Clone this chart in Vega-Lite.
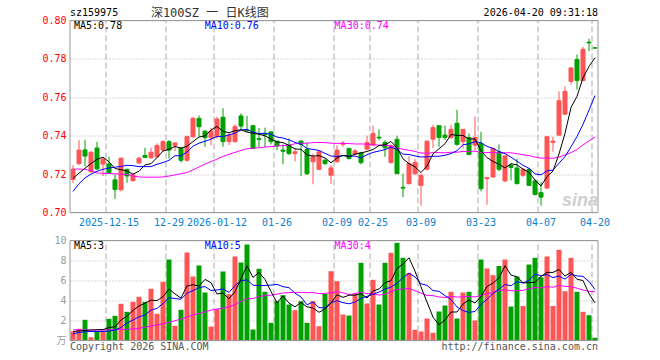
{
"$schema": "https://vega.github.io/schema/vega-lite/v6.json",
"width": 528, "height": 320,
"autosize": {"type": "none"},
"padding": {"left": 70, "top": 20.5, "right": 62, "bottom": 19.5},
"background": "white",
"config": {"view": {"stroke": null}, "text": {"font": "DejaVu Sans Mono", "fontSize": 10}, "axis": {"labelFont": "DejaVu Sans Mono", "labelFontSize": 10}},
"datasets": {
"ticks": [{"d":"2025-12-15"},{"d":"2025-12-29"},{"d":"2026-01-12"},{"d":"2026-01-26"},{"d":"2026-02-09"},{"d":"2026-02-25"},{"d":"2026-03-09"},{"d":"2026-03-23"},{"d":"2026-04-07"},{"d":"2026-04-20"}],
"one": [{}],
"k": [
{"d":"2025-12-05","o":0.7172,"h":0.7246,"l":0.7154,"c":0.7225,"v":0.90,"m5":0.7178,"m10":0.7110,"m30":0.7226,"vm5":0.90,"vm10":0.67,"vm30":1.07},
{"d":"2025-12-08","o":0.7255,"h":0.7377,"l":0.7246,"c":0.7325,"v":1.17,"m5":0.7205,"m10":0.7150,"m30":0.7226,"vm5":0.95,"vm10":0.80,"vm30":1.07},
{"d":"2025-12-09","o":0.7326,"h":0.7378,"l":0.7240,"c":0.7294,"v":2.07,"m5":0.7230,"m10":0.7180,"m30":0.7225,"vm5":1.00,"vm10":0.87,"vm30":1.06},
{"d":"2025-12-10","o":0.7213,"h":0.7318,"l":0.7205,"c":0.7314,"v":0.33,"m5":0.7255,"m10":0.7200,"m30":0.7218,"vm5":1.05,"vm10":0.90,"vm30":1.05},
{"d":"2025-12-11","o":0.7336,"h":0.7368,"l":0.7222,"c":0.7227,"v":0.90,"m5":0.7277,"m10":0.7215,"m30":0.7206,"vm5":1.07,"vm10":0.90,"vm30":1.05},
{"d":"2025-12-12","o":0.7252,"h":0.7285,"l":0.7190,"c":0.7278,"v":1.00,"m5":0.7288,"m10":0.7225,"m30":0.7204,"vm5":1.09,"vm10":0.90,"vm30":1.06},
{"d":"2025-12-15","o":0.7253,"h":0.7290,"l":0.7205,"c":0.7208,"v":2.17,"m5":0.7264,"m10":0.7232,"m30":0.7203,"vm5":1.29,"vm10":0.95,"vm30":1.07},
{"d":"2025-12-16","o":0.7170,"h":0.7196,"l":0.7071,"c":0.7120,"v":2.47,"m5":0.7229,"m10":0.7236,"m30":0.7201,"vm5":1.37,"vm10":1.05,"vm30":1.08},
{"d":"2025-12-17","o":0.7118,"h":0.7285,"l":0.7110,"c":0.7283,"v":3.67,"m5":0.7223,"m10":0.7240,"m30":0.7200,"vm5":2.04,"vm10":1.30,"vm30":1.10},
{"d":"2025-12-18","o":0.7225,"h":0.7228,"l":0.7155,"c":0.7190,"v":2.87,"m5":0.7216,"m10":0.7246,"m30":0.7198,"vm5":2.44,"vm10":1.76,"vm30":1.12},
{"d":"2025-12-19","o":0.7166,"h":0.7200,"l":0.7160,"c":0.7197,"v":3.87,"m5":0.7200,"m10":0.7244,"m30":0.7190,"vm5":3.01,"vm10":2.05,"vm30":1.15},
{"d":"2025-12-22","o":0.7258,"h":0.7290,"l":0.7255,"c":0.7283,"v":4.37,"m5":0.7215,"m10":0.7239,"m30":0.7185,"vm5":3.45,"vm10":2.37,"vm30":1.22},
{"d":"2025-12-23","o":0.7297,"h":0.7337,"l":0.7285,"c":0.7287,"v":3.87,"m5":0.7248,"m10":0.7239,"m30":0.7184,"vm5":3.73,"vm10":2.55,"vm30":1.33},
{"d":"2025-12-24","o":0.7285,"h":0.7337,"l":0.7280,"c":0.7314,"v":5.17,"m5":0.7254,"m10":0.7239,"m30":0.7184,"vm5":4.03,"vm10":3.04,"vm30":1.45},
{"d":"2025-12-25","o":0.7290,"h":0.7360,"l":0.7285,"c":0.7349,"v":2.67,"m5":0.7286,"m10":0.7251,"m30":0.7184,"vm5":3.99,"vm10":3.21,"vm30":1.55},
{"d":"2025-12-26","o":0.7325,"h":0.7377,"l":0.7320,"c":0.7369,"v":5.87,"m5":0.7320,"m10":0.7260,"m30":0.7185,"vm5":4.39,"vm10":3.70,"vm30":1.68},
{"d":"2025-12-29","o":0.7369,"h":0.7377,"l":0.7281,"c":0.7325,"v":8.10,"m5":0.7329,"m10":0.7272,"m30":0.7190,"vm5":5.14,"vm10":4.29,"vm30":1.80},
{"d":"2025-12-30","o":0.7350,"h":0.7365,"l":0.7320,"c":0.7362,"v":1.47,"m5":0.7344,"m10":0.7296,"m30":0.7196,"vm5":4.66,"vm10":4.19,"vm30":1.98},
{"d":"2025-12-31","o":0.7334,"h":0.7342,"l":0.7260,"c":0.7272,"v":3.07,"m5":0.7335,"m10":0.7295,"m30":0.7202,"vm5":4.24,"vm10":4.13,"vm30":2.15},
{"d":"2026-01-05","o":0.7272,"h":0.7400,"l":0.7265,"c":0.7395,"v":8.80,"m5":0.7345,"m10":0.7315,"m30":0.7208,"vm5":5.46,"vm10":4.73,"vm30":2.35},
{"d":"2026-01-06","o":0.7395,"h":0.7495,"l":0.7390,"c":0.7491,"v":6.40,"m5":0.7369,"m10":0.7345,"m30":0.7222,"vm5":5.57,"vm10":4.98,"vm30":2.57},
{"d":"2026-01-07","o":0.7490,"h":0.7505,"l":0.7395,"c":0.7447,"v":7.50,"m5":0.7393,"m10":0.7361,"m30":0.7237,"vm5":5.45,"vm10":5.29,"vm30":2.70},
{"d":"2026-01-08","o":0.7424,"h":0.7425,"l":0.7342,"c":0.7390,"v":4.80,"m5":0.7399,"m10":0.7371,"m30":0.7252,"vm5":6.11,"vm10":5.39,"vm30":2.85},
{"d":"2026-01-09","o":0.7390,"h":0.7440,"l":0.7350,"c":0.7424,"v":1.40,"m5":0.7429,"m10":0.7382,"m30":0.7265,"vm5":5.78,"vm10":5.01,"vm30":3.03},
{"d":"2026-01-12","o":0.7395,"h":0.7500,"l":0.7386,"c":0.7487,"v":3.13,"m5":0.7448,"m10":0.7396,"m30":0.7278,"vm5":4.65,"vm10":5.05,"vm30":3.15},
{"d":"2026-01-13","o":0.7496,"h":0.7543,"l":0.7342,"c":0.7369,"v":6.90,"m5":0.7423,"m10":0.7396,"m30":0.7292,"vm5":4.75,"vm10":5.16,"vm30":3.25},
{"d":"2026-01-14","o":0.7369,"h":0.7412,"l":0.7351,"c":0.7403,"v":4.63,"m5":0.7415,"m10":0.7404,"m30":0.7303,"vm5":4.17,"vm10":4.81,"vm30":3.35},
{"d":"2026-01-15","o":0.7369,"h":0.7460,"l":0.7365,"c":0.7447,"v":8.40,"m5":0.7426,"m10":0.7413,"m30":0.7313,"vm5":4.89,"vm10":5.50,"vm30":3.60},
{"d":"2026-01-16","o":0.7503,"h":0.7517,"l":0.7430,"c":0.7450,"v":7.80,"m5":0.7431,"m10":0.7430,"m30":0.7323,"vm5":6.17,"vm10":5.98,"vm30":3.90},
{"d":"2026-01-19","o":0.7430,"h":0.7503,"l":0.7420,"c":0.7426,"v":9.60,"m5":0.7419,"m10":0.7433,"m30":0.7332,"vm5":7.47,"vm10":6.06,"vm30":4.18},
{"d":"2026-01-20","o":0.7452,"h":0.7455,"l":0.7330,"c":0.7334,"v":1.10,"m5":0.7412,"m10":0.7418,"m30":0.7335,"vm5":6.31,"vm10":5.53,"vm30":4.19},
{"d":"2026-01-21","o":0.7385,"h":0.7440,"l":0.7340,"c":0.7381,"v":7.17,"m5":0.7408,"m10":0.7411,"m30":0.7337,"vm5":6.81,"vm10":5.49,"vm30":4.39},
{"d":"2026-01-22","o":0.7412,"h":0.7442,"l":0.7340,"c":0.7405,"v":4.87,"m5":0.7399,"m10":0.7413,"m30":0.7341,"vm5":6.11,"vm10":5.50,"vm30":4.48},
{"d":"2026-01-23","o":0.7420,"h":0.7420,"l":0.7355,"c":0.7369,"v":1.77,"m5":0.7383,"m10":0.7407,"m30":0.7343,"vm5":4.90,"vm10":5.54,"vm30":4.53},
{"d":"2026-01-26","o":0.7372,"h":0.7372,"l":0.7325,"c":0.7346,"v":3.93,"m5":0.7367,"m10":0.7393,"m30":0.7347,"vm5":3.77,"vm10":5.62,"vm30":4.63},
{"d":"2026-01-27","o":0.7325,"h":0.7355,"l":0.7252,"c":0.7319,"v":4.53,"m5":0.7364,"m10":0.7388,"m30":0.7348,"vm5":4.45,"vm10":5.38,"vm30":4.75},
{"d":"2026-01-28","o":0.7351,"h":0.7386,"l":0.7299,"c":0.7307,"v":3.60,"m5":0.7349,"m10":0.7378,"m30":0.7351,"vm5":3.74,"vm10":5.28,"vm30":4.79},
{"d":"2026-01-29","o":0.7307,"h":0.7334,"l":0.7267,"c":0.7316,"v":3.03,"m5":0.7331,"m10":0.7365,"m30":0.7358,"vm5":3.37,"vm10":4.74,"vm30":4.81},
{"d":"2026-01-30","o":0.7372,"h":0.7375,"l":0.7190,"c":0.7355,"v":3.93,"m5":0.7329,"m10":0.7356,"m30":0.7360,"vm5":3.80,"vm10":4.35,"vm30":4.82},
{"d":"2026-02-02","o":0.7328,"h":0.7365,"l":0.7195,"c":0.7202,"v":1.77,"m5":0.7300,"m10":0.7333,"m30":0.7361,"vm5":3.37,"vm10":3.57,"vm30":4.78},
{"d":"2026-02-03","o":0.7264,"h":0.7307,"l":0.7147,"c":0.7290,"v":3.93,"m5":0.7294,"m10":0.7329,"m30":0.7364,"vm5":3.25,"vm10":3.85,"vm30":4.79},
{"d":"2026-02-04","o":0.7225,"h":0.7325,"l":0.7220,"c":0.7316,"v":1.43,"m5":0.7296,"m10":0.7323,"m30":0.7365,"vm5":2.82,"vm10":3.28,"vm30":4.69},
{"d":"2026-02-05","o":0.7272,"h":0.7280,"l":0.7246,"c":0.7255,"v":4.67,"m5":0.7284,"m10":0.7308,"m30":0.7364,"vm5":3.15,"vm10":3.26,"vm30":4.71},
{"d":"2026-02-06","o":0.7194,"h":0.7246,"l":0.7147,"c":0.7232,"v":6.93,"m5":0.7259,"m10":0.7294,"m30":0.7361,"vm5":3.75,"vm10":3.78,"vm30":4.77},
{"d":"2026-02-09","o":0.7264,"h":0.7350,"l":0.7260,"c":0.7325,"v":5.93,"m5":0.7284,"m10":0.7292,"m30":0.7360,"vm5":4.58,"vm10":3.98,"vm30":4.88},
{"d":"2026-02-10","o":0.7355,"h":0.7372,"l":0.7342,"c":0.7362,"v":2.60,"m5":0.7298,"m10":0.7296,"m30":0.7360,"vm5":4.31,"vm10":3.78,"vm30":4.77},
{"d":"2026-02-11","o":0.7334,"h":0.7334,"l":0.7276,"c":0.7281,"v":2.50,"m5":0.7291,"m10":0.7293,"m30":0.7359,"vm5":4.53,"vm10":3.67,"vm30":4.59},
{"d":"2026-02-12","o":0.7304,"h":0.7330,"l":0.7299,"c":0.7321,"v":4.67,"m5":0.7304,"m10":0.7294,"m30":0.7357,"vm5":4.53,"vm10":3.84,"vm30":4.69},
{"d":"2026-02-13","o":0.7311,"h":0.7316,"l":0.7250,"c":0.7260,"v":7.77,"m5":0.7310,"m10":0.7284,"m30":0.7357,"vm5":4.69,"vm10":4.22,"vm30":4.85},
{"d":"2026-02-24","o":0.7330,"h":0.7400,"l":0.7325,"c":0.7365,"v":3.70,"m5":0.7318,"m10":0.7301,"m30":0.7356,"vm5":4.25,"vm10":4.41,"vm30":4.68},
{"d":"2026-02-25","o":0.7351,"h":0.7452,"l":0.7348,"c":0.7412,"v":6.07,"m5":0.7328,"m10":0.7313,"m30":0.7353,"vm5":4.94,"vm10":4.63,"vm30":4.67},
{"d":"2026-02-26","o":0.7392,"h":0.7433,"l":0.7377,"c":0.7388,"v":3.60,"m5":0.7349,"m10":0.7320,"m30":0.7351,"vm5":5.16,"vm10":4.84,"vm30":4.54},
{"d":"2026-02-27","o":0.7365,"h":0.7377,"l":0.7290,"c":0.7337,"v":7.77,"m5":0.7352,"m10":0.7328,"m30":0.7350,"vm5":5.78,"vm10":5.15,"vm30":4.64},
{"d":"2026-03-02","o":0.7260,"h":0.7355,"l":0.7255,"c":0.7348,"v":8.77,"m5":0.7370,"m10":0.7340,"m30":0.7347,"vm5":5.98,"vm10":5.34,"vm30":4.88},
{"d":"2026-03-03","o":0.7381,"h":0.7400,"l":0.7202,"c":0.7202,"v":9.77,"m5":0.7337,"m10":0.7328,"m30":0.7337,"vm5":7.20,"vm10":5.72,"vm30":5.10},
{"d":"2026-03-04","o":0.7131,"h":0.7202,"l":0.7080,"c":0.7127,"v":8.27,"m5":0.7280,"m10":0.7304,"m30":0.7329,"vm5":7.64,"vm10":6.29,"vm30":5.15},
{"d":"2026-03-05","o":0.7150,"h":0.7293,"l":0.7147,"c":0.7255,"v":6.77,"m5":0.7254,"m10":0.7302,"m30":0.7324,"vm5":8.27,"vm10":6.72,"vm30":5.22},
{"d":"2026-03-06","o":0.7202,"h":0.7278,"l":0.7195,"c":0.7260,"v":1.07,"m5":0.7238,"m10":0.7295,"m30":0.7318,"vm5":6.93,"vm10":6.36,"vm30":4.98},
{"d":"2026-03-09","o":0.7141,"h":0.7202,"l":0.7036,"c":0.7194,"v":0.90,"m5":0.7208,"m10":0.7289,"m30":0.7310,"vm5":5.36,"vm10":5.67,"vm30":4.75},
{"d":"2026-03-10","o":0.7225,"h":0.7372,"l":0.7220,"c":0.7372,"v":2.20,"m5":0.7242,"m10":0.7290,"m30":0.7308,"vm5":3.84,"vm10":5.52,"vm30":4.50},
{"d":"2026-03-11","o":0.7382,"h":0.7456,"l":0.7337,"c":0.7442,"v":0.77,"m5":0.7305,"m10":0.7293,"m30":0.7312,"vm5":2.34,"vm10":4.99,"vm30":4.49},
{"d":"2026-03-12","o":0.7452,"h":0.7452,"l":0.7342,"c":0.7391,"v":2.90,"m5":0.7332,"m10":0.7293,"m30":0.7312,"vm5":1.57,"vm10":4.92,"vm30":4.35},
{"d":"2026-03-13","o":0.7403,"h":0.7452,"l":0.7377,"c":0.7391,"v":3.50,"m5":0.7358,"m10":0.7298,"m30":0.7311,"vm5":2.05,"vm10":4.49,"vm30":4.30},
{"d":"2026-03-16","o":0.7391,"h":0.7456,"l":0.7382,"c":0.7433,"v":4.87,"m5":0.7406,"m10":0.7307,"m30":0.7314,"vm5":2.85,"vm10":4.10,"vm30":4.41},
{"d":"2026-03-17","o":0.7465,"h":0.7535,"l":0.7348,"c":0.7355,"v":2.20,"m5":0.7402,"m10":0.7322,"m30":0.7314,"vm5":2.85,"vm10":3.35,"vm30":4.35},
{"d":"2026-03-18","o":0.7369,"h":0.7433,"l":0.7334,"c":0.7433,"v":4.80,"m5":0.7401,"m10":0.7353,"m30":0.7318,"vm5":3.65,"vm10":3.00,"vm30":4.36},
{"d":"2026-03-19","o":0.7390,"h":0.7412,"l":0.7299,"c":0.7302,"v":4.87,"m5":0.7383,"m10":0.7357,"m30":0.7317,"vm5":4.05,"vm10":2.81,"vm30":4.40},
{"d":"2026-03-20","o":0.7351,"h":0.7500,"l":0.7325,"c":0.7390,"v":2.00,"m5":0.7383,"m10":0.7370,"m30":0.7320,"vm5":3.75,"vm10":2.90,"vm30":4.36},
{"d":"2026-03-23","o":0.7360,"h":0.7421,"l":0.7110,"c":0.7124,"v":8.10,"m5":0.7321,"m10":0.7363,"m30":0.7312,"vm5":4.39,"vm10":3.62,"vm30":4.50},
{"d":"2026-03-24","o":0.7176,"h":0.7185,"l":0.7040,"c":0.7182,"v":7.20,"m5":0.7286,"m10":0.7344,"m30":0.7312,"vm5":5.39,"vm10":4.12,"vm30":4.68},
{"d":"2026-03-25","o":0.7185,"h":0.7334,"l":0.7180,"c":0.7334,"v":6.53,"m5":0.7266,"m10":0.7334,"m30":0.7313,"vm5":5.74,"vm10":4.70,"vm30":4.77},
{"d":"2026-03-26","o":0.7316,"h":0.7355,"l":0.7215,"c":0.7225,"v":7.45,"m5":0.7251,"m10":0.7317,"m30":0.7310,"vm5":6.26,"vm10":5.15,"vm30":4.97},
{"d":"2026-03-27","o":0.7164,"h":0.7295,"l":0.7159,"c":0.7295,"v":8.10,"m5":0.7232,"m10":0.7307,"m30":0.7311,"vm5":7.48,"vm10":5.61,"vm30":5.09},
{"d":"2026-03-30","o":0.7246,"h":0.7255,"l":0.7167,"c":0.7235,"v":3.40,"m5":0.7254,"m10":0.7288,"m30":0.7311,"vm5":6.54,"vm10":5.47,"vm30":4.97},
{"d":"2026-03-31","o":0.7232,"h":0.7280,"l":0.7147,"c":0.7150,"v":6.40,"m5":0.7248,"m10":0.7267,"m30":0.7306,"vm5":6.38,"vm10":5.89,"vm30":4.98},
{"d":"2026-04-01","o":0.7194,"h":0.7232,"l":0.7185,"c":0.7225,"v":3.45,"m5":0.7226,"m10":0.7246,"m30":0.7301,"vm5":5.76,"vm10":5.75,"vm30":5.01},
{"d":"2026-04-02","o":0.7225,"h":0.7232,"l":0.7138,"c":0.7141,"v":7.60,"m5":0.7209,"m10":0.7230,"m30":0.7296,"vm5":5.79,"vm10":6.02,"vm30":5.18},
{"d":"2026-04-03","o":0.7164,"h":0.7173,"l":0.7089,"c":0.7094,"v":8.27,"m5":0.7169,"m10":0.7201,"m30":0.7289,"vm5":5.82,"vm10":6.65,"vm30":5.30},
{"d":"2026-04-07","o":0.7103,"h":0.7159,"l":0.7036,"c":0.7080,"v":6.33,"m5":0.7138,"m10":0.7196,"m30":0.7283,"vm5":6.41,"vm10":6.47,"vm30":5.25},
{"d":"2026-04-08","o":0.7127,"h":0.7395,"l":0.7124,"c":0.7395,"v":8.40,"m5":0.7187,"m10":0.7217,"m30":0.7284,"vm5":6.81,"vm10":6.59,"vm30":5.41},
{"d":"2026-04-09","o":0.7365,"h":0.7395,"l":0.7316,"c":0.7372,"v":3.45,"m5":0.7216,"m10":0.7221,"m30":0.7282,"vm5":6.81,"vm10":6.29,"vm30":5.32},
{"d":"2026-04-10","o":0.7403,"h":0.7631,"l":0.7400,"c":0.7582,"v":9.07,"m5":0.7305,"m10":0.7257,"m30":0.7289,"vm5":7.10,"vm10":6.45,"vm30":5.51},
{"d":"2026-04-13","o":0.7512,"h":0.7657,"l":0.7508,"c":0.7631,"v":4.93,"m5":0.7412,"m10":0.7291,"m30":0.7299,"vm5":6.44,"vm10":6.13,"vm30":5.41},
{"d":"2026-04-14","o":0.7683,"h":0.7757,"l":0.7666,"c":0.7753,"v":8.27,"m5":0.7547,"m10":0.7342,"m30":0.7312,"vm5":6.82,"vm10":6.62,"vm30":5.39},
{"d":"2026-04-15","o":0.7797,"h":0.7823,"l":0.7640,"c":0.7687,"v":4.87,"m5":0.7605,"m10":0.7396,"m30":0.7328,"vm5":6.12,"vm10":6.46,"vm30":5.23},
{"d":"2026-04-16","o":0.7687,"h":0.7862,"l":0.7687,"c":0.7850,"v":2.87,"m5":0.7701,"m10":0.7459,"m30":0.7352,"vm5":6.00,"vm10":6.41,"vm30":5.05},
{"d":"2026-04-17","o":0.7887,"h":0.7905,"l":0.7840,"c":0.7883,"v":2.53,"m5":0.7761,"m10":0.7533,"m30":0.7373,"vm5":4.69,"vm10":5.90,"vm30":4.91},
{"d":"2026-04-20","o":0.7858,"h":0.7860,"l":0.7855,"c":0.7856,"v":0.27,"m5":0.7806,"m10":0.7609,"m30":0.7393,"vm5":3.76,"vm10":5.10,"vm30":4.88}
]},
"data": {"name": "k"},
"resolve": {"scale": {"y": "independent"}},
"layer": [
{
"layer": [
{"data": {"name": "ticks"}, "mark": {"type": "rule", "stroke": "#aaaaaa", "strokeWidth": 1, "strokeDash": [6, 3]},
 "encoding": {"x": {"field": "d", "type": "ordinal", "bandPosition": 0, "title": null}, "y": {"datum": 0.7, "type": "quantitative", "title": null}, "y2": {"datum": 0.8}}},
{"mark": {"type": "rule", "strokeWidth": 1},
 "encoding": {
  "x": {"field": "d", "type": "ordinal", "scale": {"type": "band", "paddingInner": 0, "paddingOuter": 0},
   "axis": {"values": ["2025-12-15","2025-12-29","2026-01-12","2026-01-26","2026-02-09","2026-02-25","2026-03-09","2026-03-23","2026-04-07","2026-04-20"], "bandPosition": 0, "labelExpr": "indexof(['2025-12-15','2026-01-12'], datum.value) >= 0 ? datum.value : slice(datum.value, 5)", "labelColor": "#0a80d2", "labelAlign": "center", "labelBaseline": "top", "labelPadding": 5, "ticks": false, "tickSize": 0, "domain": false, "grid": false, "labelAngle": 0, "labelOverlap": false, "labelFlush": false, "offset": -128, "title": null}},
  "y": {"field": "l", "type": "quantitative", "scale": {"domain": [0.7, 0.8], "range": [192, 0], "zero": false, "nice": false},
   "axis": {"orient": "left", "values": [0.7, 0.72, 0.74, 0.76, 0.78, 0.8], "format": ".2f", "labelColor": "#ff0000", "labelPadding": 4, "ticks": false, "tickSize": 0, "domain": false, "grid": true, "gridColor": "#b4b4b4", "gridDash": [1, 2], "title": null}},
  "y2": {"field": "h"},
  "color": {"condition": {"test": "datum.c >= datum.o", "value": "#ff5555"}, "value": "#00a000"}}},
{"mark": {"type": "bar", "size": 4, "strokeWidth": 1},
 "encoding": {"x": {"field": "d", "type": "ordinal", "title": null}, "y": {"field": "o", "type": "quantitative", "title": null}, "y2": {"field": "c"},
  "fill": {"condition": {"test": "datum.c >= datum.o", "value": "#ff5555"}, "value": "#00a000"},
  "stroke": {"condition": {"test": "datum.c >= datum.o", "value": "#ff5555"}, "value": "#00a000"}}},
{"mark": {"type": "line", "stroke": "#ff00ff", "strokeWidth": 1}, "encoding": {"x": {"field": "d", "type": "ordinal", "title": null}, "y": {"field": "m30", "type": "quantitative", "title": null}}},
{"mark": {"type": "line", "stroke": "#0000ff", "strokeWidth": 1}, "encoding": {"x": {"field": "d", "type": "ordinal", "title": null}, "y": {"field": "m10", "type": "quantitative", "title": null}}},
{"mark": {"type": "line", "stroke": "#000000", "strokeWidth": 1}, "encoding": {"x": {"field": "d", "type": "ordinal", "title": null}, "y": {"field": "m5", "type": "quantitative", "title": null}}},
{"data": {"name": "one"}, "mark": {"type": "rule", "stroke": "#999999", "strokeWidth": 1}, "encoding": {"y": {"datum": 0.8, "type": "quantitative", "title": null}}},
{"data": {"name": "one"}, "mark": {"type": "rule", "stroke": "#999999", "strokeWidth": 1}, "encoding": {"y": {"datum": 0.7, "type": "quantitative", "title": null}}},
{"data": {"name": "one"}, "mark": {"type": "rule", "stroke": "#999999", "strokeWidth": 1}, "encoding": {"x": {"datum": "2025-12-05", "type": "ordinal", "bandPosition": 0, "title": null}, "y": {"datum": 0.7, "type": "quantitative", "title": null}, "y2": {"datum": 0.8}}},
{"data": {"name": "one"}, "mark": {"type": "rule", "stroke": "#999999", "strokeWidth": 1}, "encoding": {"x": {"datum": "2026-04-20", "type": "ordinal", "bandPosition": 1, "title": null}, "y": {"datum": 0.7, "type": "quantitative", "title": null}, "y2": {"datum": 0.8}}},
{"data": {"name": "one"}, "mark": {"type": "text", "align": "left", "baseline": "middle", "fill": "#000000"}, "encoding": {"x": {"datum": "2025-12-05", "type": "ordinal", "bandPosition": 0, "title": null}, "y": {"datum": 0.8041, "type": "quantitative", "title": null}, "text": {"value": "sz159975"}}},
{"data": {"name": "one"}, "mark": {"type": "text", "align": "center", "baseline": "middle", "fill": "#333333", "fontSize": 12, "font": "DejaVu Sans Mono, Noto Sans CJK SC"}, "encoding": {"x": {"datum": "2026-01-09", "type": "ordinal", "bandPosition": 0.3, "title": null}, "y": {"datum": 0.8041, "type": "quantitative", "title": null}, "text": {"value": "深100SZ 一 日K线图"}}},
{"data": {"name": "one"}, "mark": {"type": "text", "align": "right", "baseline": "middle", "fill": "#000000"}, "encoding": {"x": {"datum": "2026-04-20", "type": "ordinal", "bandPosition": 1, "title": null}, "y": {"datum": 0.8041, "type": "quantitative", "title": null}, "text": {"value": "2026-04-20 09:31:18"}}},
{"data": {"name": "one"}, "mark": {"type": "text", "align": "left", "baseline": "middle", "fill": "#000000", "dx": 4}, "encoding": {"x": {"datum": "2025-12-05", "type": "ordinal", "bandPosition": 0, "title": null}, "y": {"datum": 0.7971, "type": "quantitative", "title": null}, "text": {"value": "MA5:0.78"}}},
{"data": {"name": "one"}, "mark": {"type": "text", "align": "left", "baseline": "middle", "fill": "#0000ff"}, "encoding": {"x": {"datum": "2026-01-08", "type": "ordinal", "bandPosition": 0.45, "title": null}, "y": {"datum": 0.7971, "type": "quantitative", "title": null}, "text": {"value": "MA10:0.76"}}},
{"data": {"name": "one"}, "mark": {"type": "text", "align": "left", "baseline": "middle", "fill": "#ff00ff"}, "encoding": {"x": {"datum": "2026-02-09", "type": "ordinal", "bandPosition": 0.1, "title": null}, "y": {"datum": 0.7971, "type": "quantitative", "title": null}, "text": {"value": "MA30:0.74"}}},
{"data": {"name": "one"}, "mark": {"type": "text", "align": "right", "baseline": "middle", "fill": "#cfcfcf", "fontSize": 18, "fontStyle": "italic", "fontWeight": "bold", "font": "Liberation Sans"}, "encoding": {"x": {"datum": "2026-04-20", "type": "ordinal", "bandPosition": 1, "title": null}, "y": {"datum": 0.7062, "type": "quantitative", "title": null}, "text": {"value": "sina"}}}
]
},
{
"layer": [
{"data": {"name": "ticks"}, "mark": {"type": "rule", "stroke": "#aaaaaa", "strokeWidth": 1, "strokeDash": [6, 3]},
 "encoding": {"x": {"field": "d", "type": "ordinal", "bandPosition": 0, "title": null}, "y": {"datum": 0, "type": "quantitative", "title": null}, "y2": {"datum": 10}}},
{"mark": {"type": "bar", "size": 5},
 "encoding": {"x": {"field": "d", "type": "ordinal", "title": null},
  "y": {"field": "v", "type": "quantitative", "scale": {"domain": [0, 10], "range": [320, 220], "nice": false},
   "axis": {"orient": "left", "values": [0, 2, 4, 6, 8, 10], "labelExpr": "datum.value == 0 ? '万' : datum.label", "labelFont": "DejaVu Sans Mono, Noto Sans CJK SC", "labelColor": "#9a9a9a", "labelPadding": 4, "ticks": false, "tickSize": 0, "domain": false, "grid": true, "gridColor": "#b4b4b4", "gridDash": [1, 2], "title": null}},
  "fill": {"condition": {"test": "datum.c >= datum.o", "value": "#ff5555"}, "value": "#00a000"}}},
{"mark": {"type": "line", "stroke": "#ff00ff", "strokeWidth": 1}, "encoding": {"x": {"field": "d", "type": "ordinal", "title": null}, "y": {"field": "vm30", "type": "quantitative", "title": null}}},
{"mark": {"type": "line", "stroke": "#0000ff", "strokeWidth": 1}, "encoding": {"x": {"field": "d", "type": "ordinal", "title": null}, "y": {"field": "vm10", "type": "quantitative", "title": null}}},
{"mark": {"type": "line", "stroke": "#000000", "strokeWidth": 1}, "encoding": {"x": {"field": "d", "type": "ordinal", "title": null}, "y": {"field": "vm5", "type": "quantitative", "title": null}}},
{"data": {"name": "one"}, "mark": {"type": "rule", "stroke": "#999999", "strokeWidth": 1}, "encoding": {"y": {"datum": 10, "type": "quantitative", "title": null}}},
{"data": {"name": "one"}, "mark": {"type": "rule", "stroke": "#999999", "strokeWidth": 1}, "encoding": {"y": {"datum": 0, "type": "quantitative", "title": null}}},
{"data": {"name": "one"}, "mark": {"type": "rule", "stroke": "#999999", "strokeWidth": 1}, "encoding": {"x": {"datum": "2025-12-05", "type": "ordinal", "bandPosition": 0, "title": null}, "y": {"datum": 0, "type": "quantitative", "title": null}, "y2": {"datum": 10}}},
{"data": {"name": "one"}, "mark": {"type": "rule", "stroke": "#999999", "strokeWidth": 1}, "encoding": {"x": {"datum": "2026-04-20", "type": "ordinal", "bandPosition": 1, "title": null}, "y": {"datum": 0, "type": "quantitative", "title": null}, "y2": {"datum": 10}}},
{"data": {"name": "one"}, "mark": {"type": "text", "align": "left", "baseline": "middle", "fill": "#000000", "dx": 4}, "encoding": {"x": {"datum": "2025-12-05", "type": "ordinal", "bandPosition": 0, "title": null}, "y": {"datum": 9.45, "type": "quantitative", "title": null}, "text": {"value": "MA5:3"}}},
{"data": {"name": "one"}, "mark": {"type": "text", "align": "left", "baseline": "middle", "fill": "#0000ff"}, "encoding": {"x": {"datum": "2026-01-08", "type": "ordinal", "bandPosition": 0.45, "title": null}, "y": {"datum": 9.45, "type": "quantitative", "title": null}, "text": {"value": "MA10:5"}}},
{"data": {"name": "one"}, "mark": {"type": "text", "align": "left", "baseline": "middle", "fill": "#ff00ff"}, "encoding": {"x": {"datum": "2026-02-09", "type": "ordinal", "bandPosition": 0.1, "title": null}, "y": {"datum": 9.45, "type": "quantitative", "title": null}, "text": {"value": "MA30:4"}}},
{"data": {"name": "one"}, "mark": {"type": "text", "align": "left", "baseline": "middle", "fill": "#555555"}, "encoding": {"x": {"datum": "2025-12-05", "type": "ordinal", "bandPosition": 0, "title": null}, "y": {"datum": -0.62, "type": "quantitative", "title": null}, "text": {"value": "Copyright 2026 SINA.COM"}}},
{"data": {"name": "one"}, "mark": {"type": "text", "align": "right", "baseline": "middle", "fill": "#555555"}, "encoding": {"x": {"datum": "2026-04-20", "type": "ordinal", "bandPosition": 1, "title": null}, "y": {"datum": -0.62, "type": "quantitative", "title": null}, "text": {"value": "http://finance.sina.com.cn"}}}
]
}
]
}
